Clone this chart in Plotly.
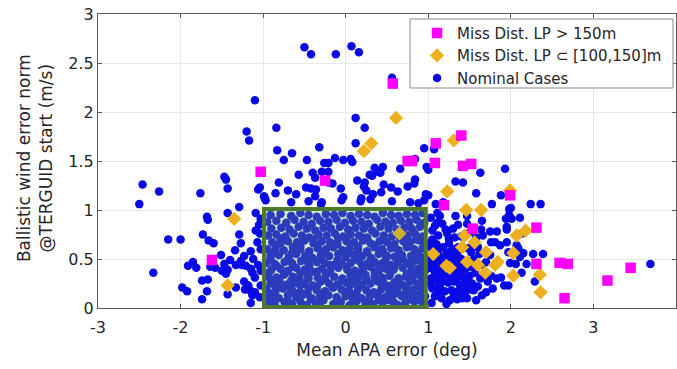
import plotly.graph_objects as go

# ---------------- data ----------------
x_ticks = [-3, -2, -1, 0, 1, 2, 3, 4]
x_tick_labels = ["-3", "-2", "-1", "0", "1", "2", "3", "4"]
y_ticks = [0, 0.5, 1, 1.5, 2, 2.5, 3]
y_tick_labels = ["0", "0.5", "1", "1.5", "2", "2.5", "3"]

miss_gt150_x = [-1.03, -0.25, -1.62, 0.57, 0.75, 0.80, 1.09, 1.08, 1.40, 1.42, 1.52,
                1.19, 1.99, 1.54, 2.31, 2.31, 2.59, 2.69, 2.65, 3.17, 3.45]
miss_gt150_y = [1.39, 1.30, 0.49, 2.29, 1.50, 1.50, 1.68, 1.48, 1.76, 1.45, 1.47,
                1.05, 1.15, 0.81, 0.82, 0.45, 0.46, 0.45, 0.10, 0.28, 0.41]

miss_mid_x = [-1.35, -1.43, 0.61, 0.31, 0.22, 1.31, 1.23, 1.99, 1.46, 1.64, 1.44, 1.56,
              1.41, 1.70, 2.07, 2.18, 2.03, 1.06, 1.26, 1.22, 1.47, 1.60, 1.69, 1.81,
              1.84, 2.03, 2.35, 2.36, 0.65]
miss_mid_y = [0.91, 0.23, 1.94, 1.68, 1.60, 1.71, 1.19, 1.20, 1.00, 1.00, 0.74, 0.67,
              0.62, 0.57, 0.74, 0.79, 0.56, 0.55, 0.41, 0.43, 0.47, 0.44, 0.36, 0.44,
              0.47, 0.33, 0.34, 0.16, 0.76]

# nominal cases outside the green box
nominal_out_x = [
    -0.50, -0.42, -0.12, 0.07, 0.16, 0.56, -1.10, -1.20, -1.17, -0.84, 0.12, 0.23, 0.12,
    -0.83, -0.75, -0.65, -0.32, -0.47, -0.13, -0.03, 0.06, 0.08, -0.26, -0.21, 0.95, 1.07,
    0.84, 1.63, 1.93, 0.98, 1.00, 0.66, 0.45, 0.42, 0.32, 0.35, 0.39, 0.29, 0.14, 0.23,
    1.33, 1.42, -2.46, -1.47, -1.45, -0.81, -0.57, -0.40, -0.37, -0.29, -0.21, -0.21,
    -0.16, -2.26, -1.76, -1.43, -1.06, -0.99, -0.98, -2.50, -1.29, -1.04, -0.48, -0.42,
    -0.36, -0.37, -0.06, -0.03, 0.22, 0.25, 0.33, 0.46, 0.55, 0.75, 0.83, 0.84, 0.97, 1.00,
    -0.45, -0.29, 0.19, 0.56, 0.78, 0.88, 1.09, 1.58, 1.88, 1.18, 1.77, 2.00, 2.24, 2.36,
    -0.97, -0.66, -0.30, -0.05, 0.18, 0.30, 0.95, 0.43, 0.63, -0.70, -0.60, -0.85,
    -1.43, -1.09, -1.03, -1.68, -1.67, -2.15, -2.00, -1.73, -1.66, -1.60, -1.29, -1.27,
    -1.34, -1.51, -1.07, -1.04, -1.09, -1.85, -1.91, -1.81, -2.33, -1.64, -1.58, -1.47,
    -1.40, -1.50, -1.43, -1.45, -1.33, -1.27, -1.23, -1.26, -1.21, -1.15, -1.12, -1.15,
    -1.13, -1.10, -1.74, -1.67, -1.98, -1.92, -1.68, -1.74, -1.43, -1.33, -1.23, -1.22,
    -1.18, -1.16, -1.10, -1.13, -1.04, -1.15, -1.03, -1.03, -1.06, -1.03, -1.05,
    1.11, 1.33, 1.98, 1.98, 1.94, 2.01, 1.65, 1.64, 1.03, 1.08, 1.17, 1.21, 1.30, 1.36,
    1.47, 1.95, 1.95, 1.75, 1.83, 1.12, 1.23, 1.32, 1.11, 1.14, 1.47, 1.54, 1.66, 1.75,
    1.66, 1.81, 1.76, 1.87, 1.95, 2.07, 1.97, 2.15, 2.27, 2.39, 2.19, 2.06, 1.99, 2.13,
    2.29, 1.48, 1.36, 1.60, 2.11, 2.13, 2.09, 2.11, 1.83, 1.88, 1.92, 1.97, 1.14, 1.26,
    1.47, 1.65, 3.69,
    1.05, 1.10, 1.18, 1.25, 1.30, 1.03, 1.08, 1.15, 1.22, 1.30, 1.35, 1.40, 1.03, 1.10,
    1.16, 1.32, 1.38, 1.45, 1.52, 1.05, 1.12, 1.20, 1.28, 1.35, 1.42, 1.50, 1.57, 1.63,
    1.03, 1.09, 1.17, 1.24, 1.31, 1.38, 1.45, 1.53, 1.60, 1.72, 1.05, 1.20, 1.28, 1.36,
    1.44, 1.55, 1.70, 1.08, 1.16, 1.35, 1.58, 1.04, 1.22, 1.76, 1.78, 1.70, 1.55, 1.62,
    1.52, 1.25, 1.40, 1.05, 1.50, 1.58,
    1.02, 1.13, 1.27, 1.07, 1.19, 1.26, 1.34, 1.02, 1.14, 1.23, 1.31, 1.40, 1.08, 1.16,
    1.26, 1.34, 1.48, 1.02, 1.12, 1.42, 1.50, 1.12, 1.31, 1.41,
]
nominal_out_y = [
    2.66, 2.59, 2.59, 2.67, 2.61, 2.35, 2.12, 1.80, 1.71, 1.84, 1.94, 1.84, 1.68,
    1.61, 1.51, 1.58, 1.64, 1.51, 1.53, 1.51, 1.52, 1.49, 1.48, 1.48, 1.63, 1.62,
    1.52, 1.38, 1.42, 1.44, 1.41, 1.42, 1.44, 1.38, 1.35, 1.43, 1.39, 1.36, 1.30, 1.28,
    1.29, 1.28, 1.26, 1.34, 1.31, 1.28, 1.36, 1.38, 1.33, 1.39, 1.39, 1.28,
    1.27, 1.19, 1.17, 1.22, 1.21, 1.14, 1.12, 1.06, 1.03, 1.23, 1.23, 1.22,
    1.21, 1.14, 1.22, 1.13, 1.24, 1.20, 1.16, 1.26, 1.23, 1.24, 1.27, 1.31, 1.16, 1.15,
    1.09, 1.08, 1.12, 1.09, 1.08, 1.07, 1.06, 1.17, 1.15, 1.08, 1.06, 1.02, 1.06, 1.06,
    1.10, 1.08, 1.06, 1.10, 1.09, 1.11, 1.10, 1.18, 1.19, 1.20, 1.16, 1.17,
    0.97, 0.97, 0.91, 0.93, 0.90, 0.70, 0.70, 0.75, 0.69, 0.66, 0.75, 0.66,
    0.59, 0.54, 0.67, 0.76, 0.79, 0.47, 0.43, 0.41, 0.36, 0.42, 0.41, 0.45,
    0.49, 0.38, 0.39, 0.35, 0.44, 0.48, 0.53, 0.44, 0.43, 0.58, 0.50, 0.40,
    0.36, 0.31, 0.28, 0.29, 0.21, 0.17, 0.17, 0.09, 0.14, 0.21, 0.27, 0.19,
    0.23, 0.18, 0.16, 0.13, 0.11, 0.05, 0.23, 0.38, 0.44, 0.60, 0.85,
    0.97, 0.94, 1.01, 0.95, 0.91, 0.91, 0.89, 0.80, 0.92, 0.84, 0.86, 0.80, 0.81, 0.85,
    0.86, 0.83, 0.80, 0.78, 0.78, 0.74, 0.76, 0.72, 0.87, 0.94, 0.94, 0.62, 0.74, 0.54,
    0.44, 0.67, 0.67, 0.64, 0.67, 0.64, 0.57, 0.56, 0.55, 0.55, 0.45, 0.45, 0.46, 0.36,
    0.27, 0.61, 0.62, 0.62, 0.92, 0.76, 0.61, 0.52, 0.30, 0.31, 0.23, 0.23, 0.23, 0.08,
    0.10, 0.13, 0.45,
    0.70, 0.65, 0.62, 0.66, 0.60, 0.62, 0.57, 0.52, 0.55, 0.52, 0.55, 0.50, 0.48, 0.46,
    0.44, 0.45, 0.42, 0.40, 0.42, 0.40, 0.37, 0.35, 0.33, 0.35, 0.32, 0.33, 0.36, 0.30,
    0.30, 0.28, 0.27, 0.26, 0.27, 0.24, 0.26, 0.25, 0.22, 0.27, 0.20, 0.17, 0.18, 0.17,
    0.15, 0.18, 0.16, 0.12, 0.10, 0.09, 0.08, 0.05, 0.04, 0.33, 0.20, 0.47, 0.50, 0.55,
    0.57, 0.71, 0.73, 0.79, 0.77, 0.72,
    0.66, 0.60, 0.58, 0.50, 0.47, 0.50, 0.48, 0.42, 0.40, 0.38, 0.39, 0.36, 0.34, 0.31,
    0.29, 0.30, 0.29, 0.25, 0.21, 0.21, 0.19, 0.16, 0.13, 0.10,
]

# nominal cases inside the green box (dense cloud)
nominal_in_x = [
    -0.95, -0.86, -0.74, -0.65, -0.55, -0.47, -0.36, -0.27, -0.15, -0.06, 0.05, 0.13, 0.24, 0.33, 0.45, 0.52, 0.63, 0.72, 0.83, 0.94,
    -0.92, -0.81, -0.70, -0.60, -0.51, -0.41, -0.31, -0.21, -0.11, 0.00, 0.09, 0.19, 0.29, 0.39, 0.48, 0.58, 0.68, 0.77, 0.88, 0.96,
    -0.96, -0.85, -0.76, -0.66, -0.55, -0.45, -0.35, -0.25, -0.16, -0.05, 0.04, 0.15, 0.25, 0.34, 0.43, 0.54, 0.63, 0.73, 0.82, 0.93,
    -0.91, -0.80, -0.71, -0.61, -0.50, -0.40, -0.30, -0.20, -0.10, 0.01, 0.10, 0.20, 0.30, 0.39, 0.49, 0.59, 0.68, 0.78, 0.87, 0.96,
    -0.95, -0.84, -0.75, -0.64, -0.56, -0.46, -0.34, -0.24, -0.14, -0.04, 0.06, 0.15, 0.24, 0.35, 0.44, 0.53, 0.64, 0.73, 0.84, 0.92,
    -0.90, -0.79, -0.70, -0.60, -0.50, -0.41, -0.29, -0.19, -0.09, 0.02, 0.11, 0.21, 0.30, 0.40, 0.49, 0.58, 0.69, 0.79, 0.88, 0.97,
    -0.96, -0.86, -0.74, -0.65, -0.54, -0.45, -0.35, -0.25, -0.14, -0.05, 0.06, 0.16, 0.25, 0.35, 0.45, 0.54, 0.63, 0.74, 0.83, 0.93,
    -0.91, -0.81, -0.69, -0.60, -0.49, -0.40, -0.30, -0.20, -0.09, 0.00, 0.11, 0.20, 0.31, 0.40, 0.50, 0.59, 0.68, 0.79, 0.88, 0.96,
    -0.95, -0.85, -0.75, -0.64, -0.55, -0.44, -0.34, -0.24, -0.15, -0.04, 0.05, 0.15, 0.26, 0.35, 0.44, 0.55, 0.64, 0.74, 0.83, 0.93,
    -0.89, -0.79, -0.70, -0.59, -0.50, -0.39, -0.29, -0.19, -0.10, 0.01, 0.10, 0.21, 0.30, 0.41, 0.50, 0.59, 0.70, 0.78, 0.89, 0.96,
    -0.94, -0.84, -0.73, -0.63, -0.53, -0.44, -0.33, -0.23, -0.13, -0.03, 0.06, 0.16, 0.26, 0.36, 0.46, 0.56, 0.75, 0.84, 0.93,
    -0.90, -0.78, -0.68, -0.57, -0.47, -0.37, -0.27, -0.18, -0.07, 0.03, 0.12, 0.22, 0.32, 0.42, 0.52, 0.62, 0.71, 0.80, 0.90,
    -0.95, -0.84, -0.72, -0.62, -0.51, -0.41, -0.31, -0.21, -0.11, -0.01, 0.09, 0.19, 0.28, 0.38, 0.48, 0.57, 0.67, 0.77, 0.86, 0.95,
    -0.91, -0.79, -0.66, -0.55, -0.45, -0.35, -0.24, -0.14, -0.04, 0.06, 0.16, 0.26, 0.35, 0.45, 0.55, 0.64, 0.74, 0.84, 0.93,
    -0.90, -0.70, -0.42, -0.31, -0.10, 0.09, 0.28, 0.40, 0.58, 0.78, 0.89,
    -0.88, -0.63, -0.46, -0.26, -0.01, 0.13, 0.34, 0.53, 0.63, 0.82,
    -0.85, -0.66, -0.55, -0.35, -0.15, 0.05, 0.15, 0.44, 0.55, 0.73, 0.91,
    -0.86, -0.66, -0.45, -0.25, -0.05, 0.14, 0.25, 0.45, 0.64, 0.80,
    -0.93, -0.74, -0.55, -0.35, -0.24, 0.06, 0.16, 0.35, 0.54, 0.74, 0.93,
    -0.84, -0.64, -0.44, -0.19, 0.01, 0.20, 0.40, 0.59, 0.79,
    -0.91, -0.69, -0.49, -0.30, -0.10, 0.11, 0.30, 0.49, 0.69, 0.88,
    -0.86, -0.65, -0.45, -0.25, 0.05, 0.26, 0.45, 0.64, 0.84,
    -0.84, -0.55, -0.34, -0.15, 0.15, 0.35, 0.55, 0.74,
    -0.79, -0.39, -0.09, 0.20, 0.45, 0.66, 0.85,
]
nominal_in_y = [
    0.05, 0.03, 0.06, 0.04, 0.07, 0.03, 0.05, 0.08, 0.04, 0.06, 0.03, 0.07, 0.05, 0.04, 0.06, 0.08, 0.03, 0.05, 0.07, 0.04,
    0.12, 0.10, 0.13, 0.11, 0.14, 0.10, 0.12, 0.13, 0.11, 0.12, 0.14, 0.10, 0.12, 0.13, 0.11, 0.14, 0.12, 0.10, 0.13, 0.12,
    0.19, 0.17, 0.20, 0.18, 0.16, 0.20, 0.18, 0.17, 0.21, 0.19, 0.17, 0.20, 0.18, 0.16, 0.19, 0.18, 0.21, 0.17, 0.19, 0.18,
    0.25, 0.27, 0.24, 0.26, 0.25, 0.23, 0.27, 0.25, 0.24, 0.26, 0.28, 0.24, 0.25, 0.27, 0.23, 0.26, 0.24, 0.27, 0.25, 0.26,
    0.32, 0.31, 0.34, 0.32, 0.30, 0.33, 0.31, 0.34, 0.32, 0.30, 0.33, 0.31, 0.34, 0.32, 0.31, 0.33, 0.30, 0.32, 0.34, 0.31,
    0.39, 0.40, 0.38, 0.41, 0.39, 0.37, 0.40, 0.38, 0.41, 0.39, 0.38, 0.40, 0.42, 0.38, 0.40, 0.39, 0.41, 0.37, 0.40, 0.39,
    0.46, 0.45, 0.47, 0.46, 0.48, 0.45, 0.47, 0.46, 0.44, 0.47, 0.46, 0.48, 0.45, 0.47, 0.46, 0.44, 0.47, 0.46, 0.48, 0.45,
    0.53, 0.54, 0.52, 0.55, 0.53, 0.51, 0.54, 0.53, 0.55, 0.52, 0.54, 0.53, 0.51, 0.55, 0.53, 0.52, 0.54, 0.53, 0.55, 0.52,
    0.60, 0.61, 0.59, 0.62, 0.60, 0.58, 0.61, 0.60, 0.62, 0.59, 0.61, 0.60, 0.58, 0.62, 0.60, 0.61, 0.59, 0.62, 0.60, 0.61,
    0.67, 0.66, 0.68, 0.67, 0.69, 0.66, 0.68, 0.67, 0.65, 0.68, 0.67, 0.69, 0.66, 0.68, 0.67, 0.65, 0.68, 0.67, 0.69, 0.66,
    0.74, 0.75, 0.73, 0.76, 0.74, 0.72, 0.75, 0.74, 0.76, 0.73, 0.75, 0.74, 0.72, 0.76, 0.74, 0.73, 0.74, 0.76, 0.73,
    0.81, 0.82, 0.80, 0.83, 0.81, 0.79, 0.82, 0.81, 0.83, 0.80, 0.82, 0.81, 0.79, 0.83, 0.81, 0.80, 0.82, 0.81, 0.83,
    0.88, 0.89, 0.87, 0.90, 0.88, 0.86, 0.89, 0.88, 0.90, 0.87, 0.89, 0.88, 0.86, 0.90, 0.88, 0.87, 0.89, 0.88, 0.90, 0.87,
    0.95, 0.96, 0.94, 0.97, 0.95, 0.93, 0.96, 0.95, 0.97, 0.94, 0.96, 0.95, 0.93, 0.97, 0.95, 0.94, 0.96, 0.95, 0.97,
    0.08, 0.07, 0.09, 0.06, 0.08, 0.09, 0.07, 0.08, 0.06, 0.09, 0.08,
    0.15, 0.16, 0.14, 0.15, 0.16, 0.15, 0.14, 0.16, 0.15, 0.14,
    0.22, 0.21, 0.23, 0.22, 0.21, 0.23, 0.22, 0.21, 0.23, 0.22, 0.21,
    0.29, 0.28, 0.30, 0.29, 0.28, 0.30, 0.29, 0.28, 0.30, 0.29,
    0.36, 0.35, 0.36, 0.37, 0.35, 0.36, 0.35, 0.37, 0.36, 0.35, 0.36,
    0.43, 0.42, 0.43, 0.44, 0.42, 0.43, 0.44, 0.42, 0.43,
    0.50, 0.49, 0.50, 0.51, 0.49, 0.50, 0.49, 0.51, 0.50, 0.49,
    0.57, 0.56, 0.57, 0.58, 0.56, 0.57, 0.58, 0.56, 0.57,
    0.64, 0.63, 0.64, 0.65, 0.63, 0.64, 0.63, 0.64,
    0.71, 0.70, 0.71, 0.72, 0.70, 0.71, 0.70,
]

nominal_x = nominal_out_x + nominal_in_x
nominal_y = nominal_out_y + nominal_in_y

box_corners_x = [-0.99, 0.97]
box_corners_y = [0.01, 1.01]

# ---------------- figure ----------------
FONT = "DejaVu Sans, Liberation Sans, Arial, sans-serif"
TXT = "#262626"

fig = go.Figure()
fig.add_trace(go.Scatter(
    x=nominal_x, y=nominal_y, mode="markers", name="Nominal Cases", legendrank=3,
    marker=dict(symbol="circle", size=8.5, color="#0a0ae6", line=dict(width=0)),
))
fig.add_trace(go.Scatter(
    x=miss_mid_x, y=miss_mid_y, mode="markers", name="Miss Dist. LP \u2282 [100,150]m", legendrank=2,
    marker=dict(symbol="diamond", size=11, color="#EDB120", line=dict(width=0)),
))
fig.add_trace(go.Scatter(
    x=miss_gt150_x, y=miss_gt150_y, mode="markers", name="Miss Dist. LP > 150m", legendrank=1,
    marker=dict(symbol="square", size=10.5, color="#FF00FF", line=dict(width=0)),
))

# green "nominal" zone
fig.add_shape(
    type="rect", xref="x", yref="y",
    x0=box_corners_x[0], x1=box_corners_x[1], y0=box_corners_y[0], y1=box_corners_y[1],
    line=dict(color="#4b7a2c", width=4), fillcolor="rgba(120,180,90,0.30)", layer="above",
)
# legend frame (drawn as a paper-space box so its size matches the reference)
fig.add_shape(
    type="rect", xref="paper", yref="paper",
    x0=0.5398, x1=0.9948, y0=0.7483, y1=0.983,
    line=dict(color="#8c8c8c", width=1), fillcolor="white", layer="above",
)

axis_common = dict(
    showgrid=True, gridcolor="#e8e8e8", gridwidth=1, zeroline=False,
    showline=True, linecolor="#5a5a5a", linewidth=1, mirror="ticks",
    ticks="inside", ticklen=4, tickcolor="#5a5a5a",
    tickfont=dict(family=FONT, size=16, color=TXT),
)

fig.update_xaxes(
    range=[-3, 4], tickmode="array", tickvals=x_ticks, ticktext=x_tick_labels,
    ticklabelstandoff=5,
    title=dict(text="Mean APA error (deg)", font=dict(family=FONT, size=17, color=TXT), standoff=7),
    **axis_common,
)
fig.update_yaxes(
    range=[0, 3], tickmode="array", tickvals=y_ticks, ticktext=y_tick_labels,
    **axis_common,
)

fig.add_annotation(
    text="Ballistic wind error norm<br>@TERGUID start (m/s)",
    xref="paper", yref="paper", x=-0.109, y=0.51, xanchor="center", yanchor="middle",
    textangle=-90, showarrow=False, align="center",
    font=dict(family=FONT, size=17, color=TXT),
)

fig.update_layout(
    width=677, height=369,
    margin=dict(l=98, r=1, t=14, b=61),
    paper_bgcolor="white", plot_bgcolor="white",
    showlegend=True,
    legend=dict(
        x=0.552, y=0.991, xanchor="left", yanchor="top",
        bgcolor="rgba(0,0,0,0)", borderwidth=0,
        font=dict(family=FONT, size=15, color=TXT),
        tracegroupgap=0, itemsizing="trace",
    ),
    font=dict(family=FONT, color=TXT),
)

fig.write_html("out.html")
